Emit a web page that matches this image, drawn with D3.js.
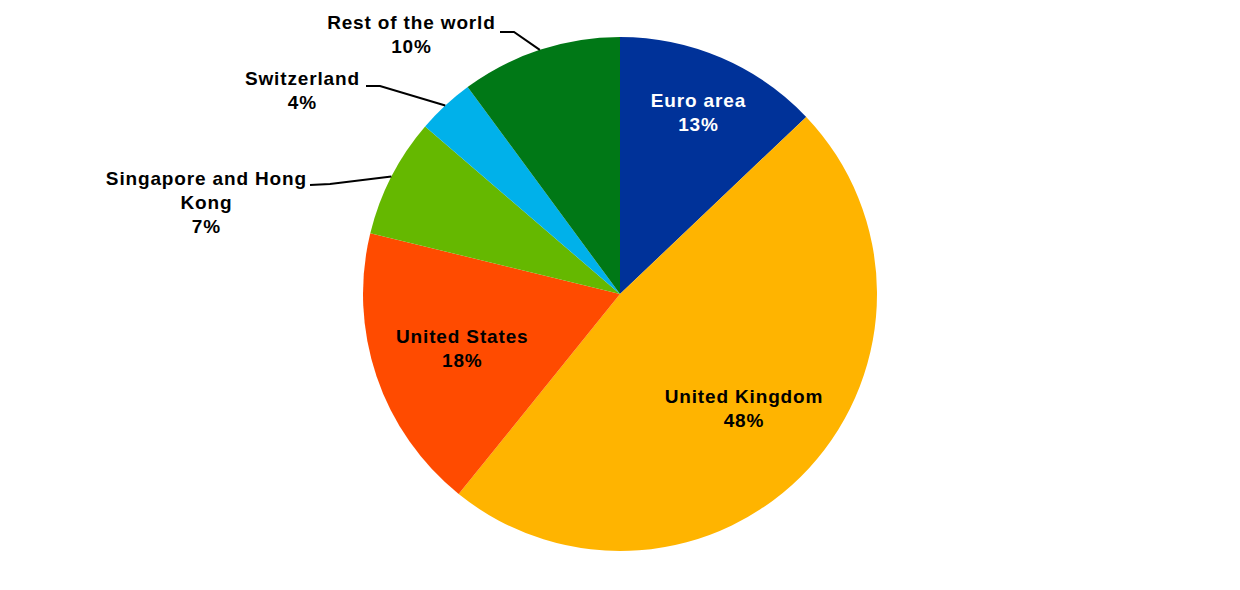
<!DOCTYPE html>
<html><head><meta charset="utf-8">
<script src="https://cdn.jsdelivr.net/npm/d3@7"></script>
<style>body{margin:0;background:#fff}svg{display:block}text{font-family:"Liberation Sans",Arial,sans-serif;font-weight:bold;font-size:19px;letter-spacing:0.85px}</style>
</head><body><svg id="c" width="1240" height="590"></svg>
<script>
const categories = ["Euro area", "United Kingdom", "United States", "Singapore and Hong Kong", "Switzerland", "Rest of the world"];
const values = [12.9, 47.9, 18.0, 7.5, 3.6, 10.1];
const valueLabels = ["13%", "48%", "18%", "7%", "4%", "10%"];
const colors = ["#003299", "#FFB400", "#FF4B00", "#65B800", "#00B1EA", "#007816"];

const W = 1240, H = 590, cx = 620, cy = 294, R = 257;
const svg = d3.select("#c");
const g = svg.append("g").attr("transform", `translate(${cx},${cy})`);

const pie = d3.pie().sort(null).value(d => d)(values);
const arc = d3.arc().innerRadius(0).outerRadius(R);

g.selectAll("path.slice").data(pie).enter().append("path")
  .attr("class", "slice")
  .attr("d", arc)
  .attr("fill", (d, i) => colors[i]);

const ls = 0.42; // half letter-spacing compensation
// inside labels
const inside = {0: {r: 198, fill: "#fff", lines: ["Euro area"]},
                1: {r: 168, fill: "#000", lines: ["United Kingdom"]},
                2: {r: 167, fill: "#000", lines: ["United States"]}};
Object.keys(inside).forEach(k => {
  const i = +k, o = inside[k], d = pie[i];
  const a = (d.startAngle + d.endAngle) / 2;
  const x = Math.sin(a) * o.r, y = -Math.cos(a) * o.r;
  const t = g.append("text").attr("text-anchor", "middle").attr("fill", o.fill);
  const lines = o.lines.concat([valueLabels[i]]);
  lines.forEach((s, j) => {
    t.append("tspan").attr("x", x + ls).attr("y", y + 7 + (j - (lines.length - 1) / 2) * 24).text(s);
  });
});

// outside labels with leader lines
const outside = {
  3: {elbow: [330, 184], end: [310, 185], tx: 206, ty: 178, lines: ["Singapore and Hong", "Kong"]},
  4: {elbow: [380, 86], end: [366, 86], tx: 302, ty: 78, lines: ["Switzerland"]},
  5: {elbow: [514, 32], end: [500, 32], tx: 411, ty: 22, lines: ["Rest of the world"]}
};
Object.keys(outside).forEach(k => {
  const i = +k, o = outside[k], d = pie[i];
  const a = (d.startAngle + d.endAngle) / 2;
  const px = cx + Math.sin(a) * R, py = cy - Math.cos(a) * R;
  svg.append("polyline")
    .attr("points", [[px, py], o.elbow, o.end].map(p => p.join(",")).join(" "))
    .attr("fill", "none").attr("stroke", "#000").attr("stroke-width", 2);
  const t = svg.append("text").attr("text-anchor", "middle").attr("fill", "#000");
  const lines = o.lines.concat([valueLabels[i]]);
  lines.forEach((s, j) => {
    t.append("tspan").attr("x", o.tx + ls).attr("y", o.ty + 7 + j * 24).text(s);
  });
});
</script></body></html>
